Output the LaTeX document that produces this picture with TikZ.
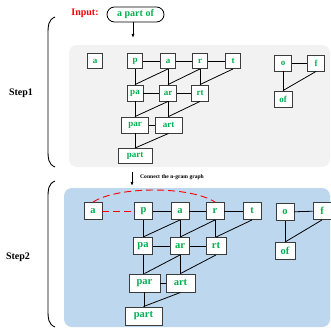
\documentclass[tikz,border=0pt]{standalone}
\usepackage{fontspec}
\setmainfont{Liberation Serif}
\usetikzlibrary{arrows.meta}
\definecolor{ngreen}{RGB}{0,176,80}
\definecolor{bgray}{RGB}{242,242,242}
\definecolor{bblue}{RGB}{189,215,238}
\definecolor{bordc}{RGB}{60,60,60}
\tikzset{
  gbox/.style={draw=bordc, line width=0.9pt, fill=white, text=ngreen, inner sep=0pt,
    font=\bfseries\fontsize{9}{9}\selectfont, minimum width=15pt, minimum height=15pt},
  hbox/.style={draw=bordc, line width=0.9pt, fill=white, text=ngreen, inner sep=0pt,
    font=\bfseries\fontsize{10.5}{10.5}\selectfont, minimum width=18pt, minimum height=17pt},
  edge/.style={draw=black, line width=0.8pt},
  reddash/.style={draw=red, line width=0.9pt, dash pattern=on 7pt off 4pt},
  steplabel/.style={font=\bfseries\fontsize{10}{10}\selectfont},
  bracket/.style={draw=black, line width=0.9pt},
  arr/.style={draw=black, line width=0.8pt, -{Latex[length=4pt,width=3pt]}}
}
\begin{document}
\begin{tikzpicture}[x=1pt,y=-1pt]
\useasboundingbox (0,0) rectangle (331,329);
% backgrounds
\fill[bgray, rounded corners=8pt] (69,45) rectangle (330,167);
\fill[bblue, rounded corners=8pt] (64,188) rectangle (330,327);
% brackets
\draw[bracket] (55,17) .. controls (48,20) and (48,26) .. (48,34) -- (48,150) .. controls (48,158) and (48,164) .. (55,167);
\draw[bracket] (55,181) .. controls (48,184) and (48,190) .. (48,198) -- (48,310) .. controls (48,318) and (48,324) .. (55,327);
\node[steplabel] (s1) at (21,93) {Step1};
\node[steplabel] (s2) at (18,257) {Step2};
% input
\node[text=red, font=\bfseries\fontsize{10}{10}\selectfont] (inlab) at (85,13) {Input:};
\node[draw=black, line width=0.8pt, rounded corners=7.5pt, minimum width=57pt, minimum height=15pt, inner sep=0pt,
  text=ngreen, font=\bfseries\fontsize{10}{10}\selectfont] (inp) at (135.5,14.5) {a part of};
\coordinate (arr1e) at (133,38);
\draw[arr] (inp.south -| arr1e) -- (arr1e);
% step 1 nodes
\node[gbox] (A1) at (95,61) {a};
\node[gbox] (P1) at (135,61) {p};
\node[gbox] (Aa1) at (168,61) {a};
\node[gbox] (R1) at (200,61) {r};
\node[gbox] (T1) at (233,61) {t};
\node[gbox, minimum width=17pt, minimum height=16pt] (O1) at (283,63) {o};
\node[gbox, minimum width=17pt, minimum height=16pt] (F1) at (316,63) {f};
\node[gbox, minimum width=18pt, minimum height=16pt] (OF1) at (283,99) {of};
\node[gbox, minimum width=16pt, minimum height=16pt] (PA1) at (135,93) {pa};
\node[gbox, minimum width=17pt, minimum height=16pt] (AR1) at (168,93) {ar};
\node[gbox, minimum width=17pt, minimum height=16pt] (RT1) at (200,93) {rt};
\node[gbox, minimum width=27pt, minimum height=16pt] (PAR1) at (135,125) {par};
\node[gbox, minimum width=27pt, minimum height=16pt] (ART1) at (168.5,125) {art};
\node[gbox, minimum width=34pt, minimum height=15pt] (PART1) at (135,156) {part};
% step 1 edges
\draw[edge] (P1) -- (Aa1);
\draw[edge] (Aa1) -- (R1);
\draw[edge] (R1) -- (T1);
\draw[edge] (P1) -- (PA1);
\draw[edge] (Aa1) -- (AR1);
\draw[edge] (R1) -- (RT1);
\draw[edge] (Aa1.south) -- (PA1.north);
\draw[edge] (R1.south) -- (AR1.north);
\draw[edge] (T1.south) -- (RT1.north);
\draw[edge] (PA1) -- (AR1);
\draw[edge] (AR1) -- (RT1);
\draw[edge] (PA1) -- (PAR1);
\draw[edge] (AR1.south) -- (ART1.north -| AR1.south);
\draw[edge] (AR1.south) -- (PAR1.north);
\draw[edge] (RT1.south) -- (ART1.north);
\draw[edge] (PAR1) -- (ART1);
\draw[edge] (PAR1) -- (PART1);
\draw[edge] (ART1.south) -- (PART1.north);
\draw[edge] (O1) -- (F1);
\draw[edge] (O1) -- (OF1);
\draw[edge] (F1.south) -- (OF1.north);
% arrow between steps
\coordinate (arr2s) at (132,172);
\coordinate (arr2e) at (132,186);
\draw[arr] (arr2s) -- (arr2e);
\node[anchor=west, inner sep=0pt, font=\bfseries\fontsize{5.6}{5.6}\selectfont] (conn) at (140,177) {Connect the n-gram graph};
% step 2 nodes
\node[hbox] (A2) at (93,211) {a};
\node[hbox] (P2) at (143.5,211) {p};
\node[hbox] (Aa2) at (180,211) {a};
\node[hbox] (R2) at (215,211) {r};
\node[hbox] (T2) at (252,211) {t};
\node[hbox] (O2) at (285,212) {o};
\node[hbox] (F2) at (322,211) {f};
\node[hbox, minimum width=20pt] (OF2) at (285,251) {of};
\node[hbox, minimum width=19pt] (PA2) at (143,246) {pa};
\node[hbox, minimum width=19pt] (AR2) at (180,246) {ar};
\node[hbox, minimum width=20pt] (RT2) at (216,246) {rt};
\node[hbox, minimum width=31pt, minimum height=18pt] (PAR2) at (144.5,283) {par};
\node[hbox, minimum width=29pt, minimum height=18pt] (ART2) at (180.5,283) {art};
\node[hbox, minimum width=37pt, minimum height=18pt] (PART2) at (143.5,316) {part};
% step 2 edges
\draw[edge] (P2) -- (Aa2);
\draw[edge] (Aa2) -- (R2);
\draw[edge] (R2) -- (T2);
\draw[edge] (P2.south) -- (PA2.north -| P2.south);
\draw[edge] (Aa2) -- (AR2);
\draw[edge] (R2.south) -- (RT2.north -| R2.south);
\draw[edge] (Aa2.south) -- (PA2.north);
\draw[edge] (R2.south) -- (AR2.north);
\draw[edge] (T2.south) -- (RT2.north);
\draw[edge] (PA2) -- (AR2);
\draw[edge] (AR2) -- (RT2);
\draw[edge] (PA2.south) -- (PAR2.north -| PA2.south);
\draw[edge] (AR2.south) -- (ART2.north -| AR2.south);
\draw[edge] (AR2.south) -- (PAR2.north);
\draw[edge] (RT2.south) -- (ART2.north);
\draw[edge] (PAR2) -- (ART2);
\draw[edge] (PAR2.south) -- (PART2.north -| PAR2.south);
\draw[edge] (ART2.south) -- (PART2.north);
\draw[edge] (O2) -- (F2);
\draw[edge] (O2) -- (OF2);
\draw[edge] (F2.south) -- (OF2.north);
% red dashed connections
\draw[reddash] (A2.east) -- (P2.west);
\draw[reddash] (A2.north) .. controls (118,186) and (190,186) .. (R2.north);
\end{tikzpicture}
\end{document}
